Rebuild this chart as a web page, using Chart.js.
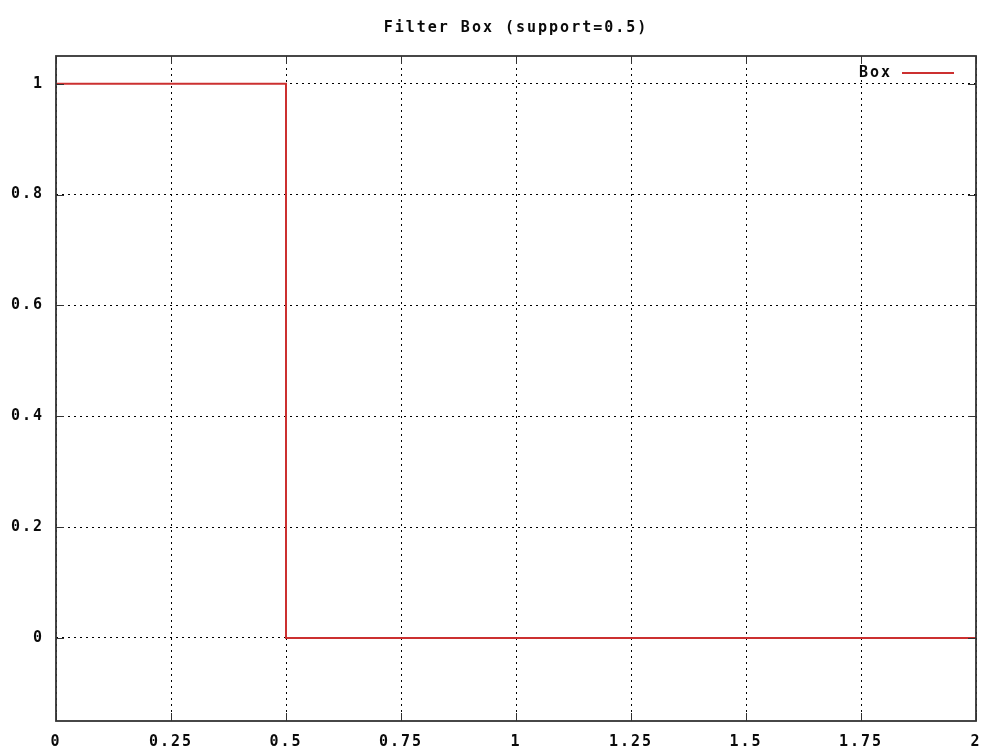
<!DOCTYPE html>
<html>
<head>
<meta charset="utf-8">
<script src="https://cdn.jsdelivr.net/npm/chart.js@4/dist/chart.umd.min.js"></script>
<style>
  html, body { margin: 0; padding: 0; background: #ffffff; }
  canvas { display: block; }
</style>
</head>
<body>
<canvas id="c" width="987" height="751"></canvas>
<script>
// Box filter kernel: 1 inside the support, 0 outside
const seriesLabel = 'Box';
const xValues = [0, 0.5, 0.5, 2];
const yValues = [1, 1, 0, 0];

const xTicks = [0, 0.25, 0.5, 0.75, 1, 1.25, 1.5, 1.75, 2];
const yTicks = [0, 0.2, 0.4, 0.6, 0.8, 1];
const xRange = [0, 2];
const yRange = [-0.15, 1.05];

const titleText = 'Filter Box (support=0.5)';

const FONT = { family: '"DejaVu Sans Mono", "Liberation Mono", monospace', size: 15, weight: 'bold' };
const INK = '#0a0a0a';
const FRAME = '#333333';
const LINE_RED = '#cc3030';

const plainNumber = v => String(Math.round(v * 1000) / 1000);

// Wide, pixel-like lettering for every text on the canvas
const spacingPlugin = {
  id: 'spacing',
  beforeLayout(chart) { chart.ctx.letterSpacing = '2px'; },
  beforeDraw(chart) { chart.ctx.letterSpacing = '2px'; }
};

// Full frame with inward tick marks on all four sides, plus an in-plot key
const framePlugin = {
  id: 'frame',
  afterDatasetsDraw(chart) {
    const { ctx, chartArea: a, scales } = chart;
    const tick = 8;
    ctx.save();
    ctx.strokeStyle = FRAME;
    ctx.lineWidth = 1;
    ctx.beginPath();
    scales.x.ticks.forEach(t => {
      const px = Math.round(scales.x.getPixelForValue(t.value)) + 0.5;
      ctx.moveTo(px, a.bottom); ctx.lineTo(px, a.bottom - tick);
      ctx.moveTo(px, a.top); ctx.lineTo(px, a.top + tick);
    });
    scales.y.ticks.forEach(t => {
      const py = Math.round(scales.y.getPixelForValue(t.value)) + 0.5;
      ctx.moveTo(a.left, py); ctx.lineTo(a.left + tick, py);
      ctx.moveTo(a.right, py); ctx.lineTo(a.right - tick, py);
    });
    ctx.stroke();
    ctx.lineWidth = 1.8;
    ctx.strokeRect(a.left, a.top, a.right - a.left, a.bottom - a.top);

    // key
    const ds = chart.data.datasets[0];
    const ky = a.top + 17;
    const lineEnd = a.right - 22;
    const lineStart = lineEnd - 52;
    ctx.letterSpacing = '2px';
    ctx.font = `${FONT.weight} ${FONT.size}px ${FONT.family}`;
    ctx.fillStyle = INK;
    ctx.textAlign = 'right';
    ctx.textBaseline = 'middle';
    ctx.fillText(ds.label, lineStart - 10, ky);
    ctx.strokeStyle = ds.borderColor;
    ctx.lineWidth = 2;
    ctx.beginPath();
    ctx.moveTo(lineStart, ky); ctx.lineTo(lineEnd, ky);
    ctx.stroke();
    ctx.restore();
  }
};

new Chart(document.getElementById('c'), {
  type: 'scatter',
  data: {
    datasets: [{
      label: seriesLabel,
      data: xValues.map((x, i) => ({ x, y: yValues[i] })),
      showLine: true,
      borderColor: LINE_RED,
      backgroundColor: LINE_RED,
      borderWidth: 2,
      pointRadius: 0,
      tension: 0
    }]
  },
  options: {
    responsive: false,
    animation: false,
    devicePixelRatio: 1,
    layout: { padding: { top: 0, right: 11, bottom: 0, left: 0 } },
    plugins: {
      legend: { display: false },
      tooltip: { enabled: false },
      title: {
        display: true,
        text: titleText,
        color: INK,
        font: FONT,
        fullSize: false,
        padding: { top: 19, bottom: 19 }
      }
    },
    scales: {
      x: {
        type: 'linear',
        min: xRange[0],
        max: xRange[1],
        afterBuildTicks(scale) { scale.ticks = xTicks.map(v => ({ value: v })); },
        afterFit(scale) { scale.height = 30; scale.paddingLeft = 0; scale.paddingRight = 0; },
        ticks: { color: INK, font: FONT, padding: 12, maxRotation: 0, autoSkip: false, callback: plainNumber },
        grid: { color: '#000000', lineWidth: 1, drawTicks: false, tickLength: 0 },
        border: { display: false, dash: [2, 4] }
      },
      y: {
        type: 'linear',
        min: yRange[0],
        max: yRange[1],
        afterBuildTicks(scale) { scale.ticks = yTicks.map(v => ({ value: v })); },
        afterFit(scale) { scale.width = 56; scale.paddingTop = 0; scale.paddingBottom = 0; },
        ticks: { color: INK, font: FONT, padding: 12, autoSkip: false, callback: plainNumber },
        grid: { color: '#000000', lineWidth: 1, drawTicks: false, tickLength: 0 },
        border: { display: false, dash: [2, 4] }
      }
    }
  },
  plugins: [spacingPlugin, framePlugin]
});
</script>
</body>
</html>
